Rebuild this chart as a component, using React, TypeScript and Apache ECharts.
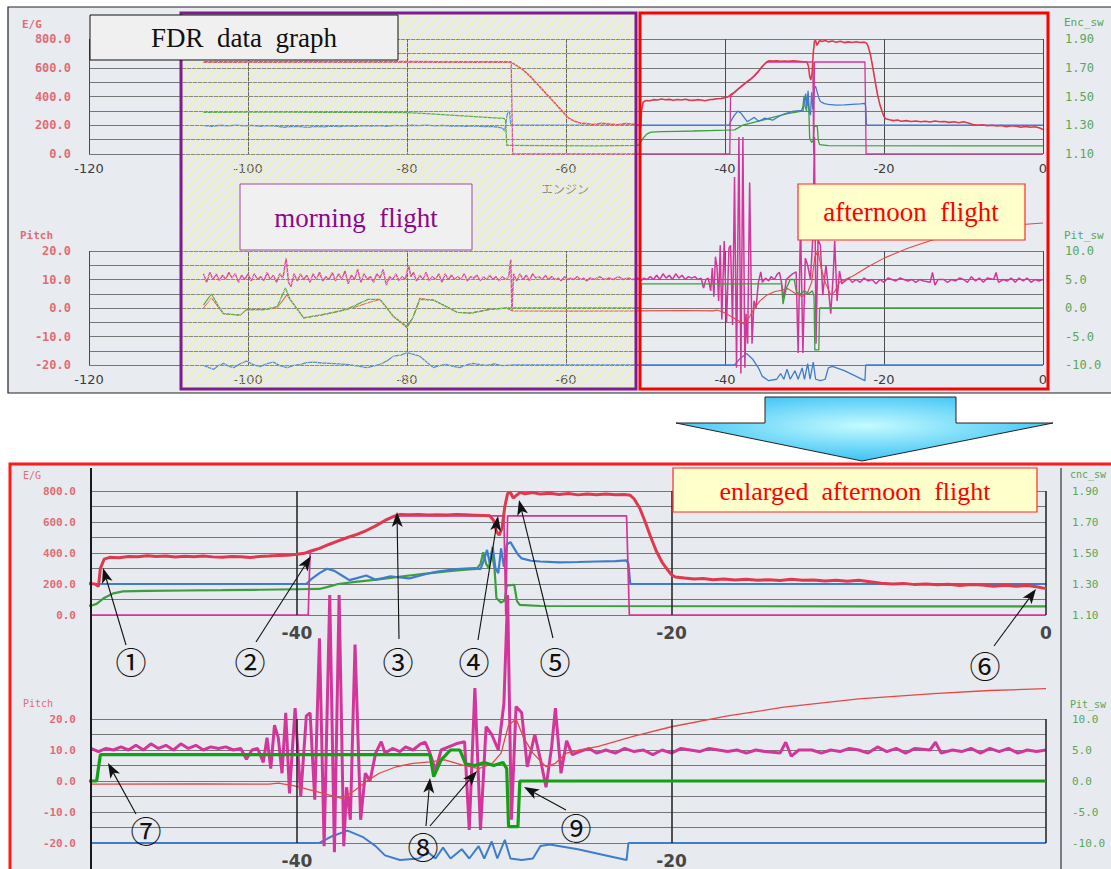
import React, { useEffect, useRef } from 'react';
import * as echarts from 'echarts';

type P = [number, number];

// ---------- E/G (engine) series, x = time, y = E/G value ----------
const egRed: P[] = [
  [-105.6, 640], [-103, 642], [-100, 640], [-96, 641], [-92, 643], [-88, 640], [-84, 642], [-80, 644], [-76, 641], [-72, 640], [-68, 641], [-67, 640],
  [-66.5, 625], [-65.5, 590], [-64.5, 540], [-63.5, 480], [-62.5, 420], [-61.5, 360], [-60.5, 300], [-59.8, 255], [-59, 230], [-58.2, 215], [-57.5, 212],
  [-56.5, 205], [-55.5, 214], [-54.5, 208], [-53.5, 203], [-52.5, 212], [-51.5, 207], [-50.8, 200], [-50.6, 185],
  [-50.5, 300], [-50.3, 360], [-50, 372], [-49.5, 370], [-49, 378], [-48.5, 376], [-48, 382], [-47.5, 377], [-47, 380], [-46.5, 374], [-46, 379],
  [-45.5, 376], [-45, 381], [-44.5, 375], [-44, 373], [-43.5, 378], [-43, 376], [-42.5, 371], [-42, 377], [-41.5, 380], [-41, 384], [-40.5, 386],
  [-40, 392], [-39.6, 398], [-39.3, 412], [-38.8, 430], [-38.3, 455], [-37.8, 478], [-37.3, 500], [-36.8, 520], [-36.3, 545], [-35.8, 575], [-35.3, 610],
  [-34.8, 638], [-34.5, 648], [-34, 646], [-33.5, 648], [-33, 645], [-32.5, 647], [-32, 645], [-31.5, 648], [-31, 646], [-30.5, 644], [-30, 642],
  [-29.7, 640], [-29.5, 610], [-29.35, 540], [-29.2, 515], [-29.05, 560], [-28.9, 700], [-28.75, 785], [-28.6, 790], [-28.45, 755], [-28.3, 770],
  [-28.1, 790], [-27.8, 782], [-27.4, 790], [-27, 780], [-26.5, 786], [-26, 778], [-25.5, 784], [-25, 775], [-24.5, 780], [-24, 776], [-23.5, 781],
  [-23, 776], [-22.5, 778], [-22.2, 772], [-22, 750], [-21.7, 690], [-21.4, 600], [-21.1, 500], [-20.8, 410], [-20.5, 340], [-20.2, 290], [-20, 260],
  [-19.8, 245], [-19.3, 238], [-18.8, 232], [-18.3, 236], [-17.8, 228], [-17.2, 232], [-16.6, 226], [-16, 230], [-15.4, 224], [-14.8, 228], [-14.2, 222],
  [-13.6, 230], [-13, 224], [-12.4, 226], [-11.8, 220], [-11.2, 224], [-10.6, 218], [-10, 224], [-9.4, 215], [-8.8, 205], [-8.2, 200], [-7.6, 204],
  [-7, 196], [-6.4, 200], [-5.8, 195], [-5.2, 198], [-4.6, 190], [-4, 196], [-3.4, 194], [-2.8, 186], [-2.2, 192], [-1.6, 186], [-1, 190], [-0.5, 182], [0, 170],
];

const egMagenta: P[] = [
  [-105.6, 640], [-66.9, 640], [-66.7, 0], [-39.4, 0], [-39.3, 405], [-38.8, 428], [-38.3, 453], [-37.8, 476], [-37.3, 498], [-36.8, 518],
  [-36.3, 543], [-35.8, 573], [-35.3, 608], [-34.8, 636], [-34.5, 640], [-28.95, 640], [-28.85, 0], [-28.75, 640], [-22.4, 640], [-22.25, 0], [0, 0],
];

const egGreen: P[] = [
  [-105.6, 290], [-100, 292], [-95, 291], [-90, 290], [-85, 289], [-80, 288], [-78, 282], [-75, 272], [-72, 262], [-69, 252], [-67.8, 248],
  [-67.6, 236], [-67.45, 60], [-62, 58], [-56, 57], [-51, 60], [-50.7, 72], [-50.3, 110], [-49.8, 140], [-49.3, 152], [-48, 156], [-46, 158],
  [-44, 160], [-42, 163], [-40, 166], [-38.8, 168], [-38.4, 180], [-37.8, 200], [-37, 212], [-36, 225], [-35, 240], [-34, 255], [-33, 268],
  [-32, 282], [-31, 292], [-30.4, 298], [-30.2, 330], [-30.05, 405], [-29.9, 330], [-29.75, 300], [-29.6, 410], [-29.45, 300], [-29.35, 110],
  [-29.1, 80], [-28.9, 95], [-28.8, 190], [-28.4, 195], [-28.25, 90], [-28.1, 65], [-27, 58], [-10, 56], [0, 56],
];

const egBlue: P[] = [
  [-105.6, 198], [-104.5, 192], [-103.5, 200], [-102.5, 195], [-101.5, 201], [-100.5, 196], [-99.5, 199], [-98.5, 193], [-97.5, 198], [-96.5, 194],
  [-95.5, 186], [-94.5, 192], [-93.5, 190], [-92.5, 185], [-91.5, 192], [-90.5, 188], [-89.5, 194], [-88.5, 190], [-87.5, 196], [-86.5, 192],
  [-85.5, 198], [-84.5, 194], [-83.5, 197], [-82.5, 193], [-81.5, 199], [-80.5, 196], [-79.5, 200], [-78.5, 197], [-77.5, 201], [-76.5, 196],
  [-75.5, 199], [-74.5, 194], [-73.5, 196], [-72.5, 192], [-71.5, 195], [-70.5, 190], [-69.5, 192], [-68.5, 186], [-68, 180], [-67.7, 160],
  [-67.5, 240], [-67.3, 300], [-67.1, 290], [-66.95, 205], [-66.8, 200], [-39.5, 200], [-39.2, 235], [-38.8, 270], [-38.4, 298], [-38, 285],
  [-37.6, 255], [-37.2, 225], [-36.8, 238], [-36.3, 255], [-35.8, 228], [-35.4, 238], [-35, 250], [-34.5, 242], [-34, 236], [-33.5, 252],
  [-33, 268], [-32.5, 280], [-32, 288], [-31.5, 296], [-31, 300], [-30.5, 302], [-30.2, 296], [-30, 360], [-29.85, 420], [-29.7, 330],
  [-29.55, 440], [-29.4, 300], [-29.25, 270], [-29.1, 430], [-28.95, 310], [-28.8, 455], [-28.6, 470], [-28.4, 430], [-28.2, 390], [-28, 365],
  [-27.5, 350], [-27, 345], [-26, 340], [-25, 342], [-24, 345], [-23, 348], [-22.4, 352], [-22.3, 330], [-22.2, 200], [0, 200],
];

// ---------- Pitch series ----------
const pitchMagenta: P[] = [
  [-105.6, 12], [-105.2, 9], [-104.8, 12.5], [-104.4, 10], [-104, 12], [-103.6, 9.5], [-103.2, 11.5], [-102.8, 10], [-102.4, 12.5], [-102, 10.5],
  [-101.6, 12], [-101.2, 9], [-100.8, 11.5], [-100.4, 10], [-100, 12], [-99.6, 9.5], [-99.2, 12], [-98.8, 10], [-98.4, 11], [-98, 9.5],
  [-97.6, 12.5], [-97.2, 10], [-96.8, 11.5], [-96.4, 9], [-96, 12], [-95.6, 10.5], [-95.2, 17.5], [-94.9, 9], [-94.6, 7.5], [-94.2, 12],
  [-93.8, 9.5], [-93.4, 12], [-93, 10], [-92.6, 11.5], [-92.2, 9], [-91.8, 12], [-91.4, 10], [-91, 12.5], [-90.6, 9.5], [-90.2, 11],
  [-89.8, 10], [-89.4, 12.5], [-89, 9.5], [-88.6, 12], [-88.2, 10], [-87.8, 13], [-87.4, 8.5], [-87, 11.5], [-86.6, 10], [-86.2, 13.5],
  [-85.8, 9], [-85.4, 12], [-85, 10], [-84.6, 11], [-84.2, 9], [-83.8, 12], [-83.4, 10.5], [-83, 13.5], [-82.6, 8], [-82.2, 11],
  [-81.8, 10], [-81.4, 12], [-81, 9.5], [-80.6, 11], [-80.2, 10], [-79.8, 15], [-79.5, 11], [-79.2, 12.5], [-78.8, 9.5], [-78.4, 11.5],
  [-78, 10], [-77.6, 12.5], [-77.2, 9.5], [-76.8, 11], [-76.4, 10], [-76, 12], [-75.6, 9], [-75.2, 12], [-74.8, 10], [-74.4, 11.5],
  [-74, 10], [-73.6, 11], [-73.2, 10], [-72.8, 12], [-72.4, 9.5], [-72, 11], [-71.6, 10.5], [-71.2, 11.5], [-70.8, 9.5], [-70.4, 11],
  [-70, 10], [-69.6, 11.5], [-69.2, 10], [-68.8, 11], [-68.4, 9.5], [-68, 11], [-67.6, 10], [-67.2, 11], [-66.95, 17], [-66.8, -1],
  [-66.6, 12], [-66.2, 9.5], [-65.8, 12], [-65.4, 10], [-65, 11.5], [-64.6, 9.5], [-64.2, 12], [-63.8, 10.5], [-63.4, 11], [-63, 10],
  [-62.6, 11.5], [-62.2, 10], [-61.8, 11], [-61.4, 10], [-61, 10.5], [-60.6, 9.5], [-60.2, 11], [-59.8, 10], [-59.4, 10.5], [-59, 10],
  [-58.6, 11], [-58.2, 10], [-57.8, 10.5], [-57.4, 9.5], [-57, 10.5], [-56.4, 10], [-55.8, 11], [-55.2, 10], [-54.6, 10.5], [-54, 10],
  [-53.4, 11], [-52.8, 10], [-52.2, 10.5], [-51.6, 10], [-51, 10.5],
  [-50.6, 9.5], [-50.2, 10.5], [-49.8, 10], [-49.4, 11], [-49, 10], [-48.6, 11.5], [-48.2, 10], [-47.8, 12], [-47.4, 10.5], [-47, 11.5],
  [-46.6, 10], [-46.2, 12], [-45.8, 10.5], [-45.4, 11.5], [-45, 10], [-44.6, 11], [-44.2, 10.5], [-43.8, 11], [-43.4, 10], [-43, 10.5],
  [-42.7, 7], [-42.4, 10], [-42.1, 10.5], [-41.8, 6], [-41.6, 14], [-41.4, 4], [-41.2, 18], [-41, 14], [-40.8, 2.5], [-40.6, 22],
  [-40.4, -4], [-40.1, 23.5], [-39.8, -5], [-39.5, 21], [-39.3, 22], [-39.05, -6], [-38.8, 46], [-38.55, -21], [-38.25, 60], [-38, -23],
  [-37.75, 60], [-37.5, -21], [-37.35, -2], [-37.15, -12.5], [-36.9, 44], [-36.6, -12.5], [-36.35, 2.5], [-36.1, 0], [-35.8, 9], [-35.5, 12.7],
  [-35.3, 9], [-34.9, 10.5], [-34.5, 9.5], [-34.2, 11], [-33.8, 10], [-33.4, 12], [-33.15, 12.5], [-32.9, 9], [-32.6, 3.5], [-32.3, 10],
  [-31.9, 11], [-31.5, 12], [-31.05, 12.7], [-30.8, -15.8], [-30.5, 30], [-30.2, -15.8], [-29.9, 17.5], [-29.6, 15], [-29.25, 10], [-28.95, 25],
  [-28.75, 60], [-28.55, -12.5], [-28.3, 24], [-28, 22], [-27.7, 4.6], [-27.3, 15], [-27, 7], [-26.7, -2], [-26.4, 11], [-26.2, 23.5],
  [-25.9, 2.5], [-25.6, 13], [-25.3, 8.5], [-24.9, 9.5], [-24.4, 10.5], [-24, 9], [-23.5, 10], [-23, 9], [-22.5, 10.5], [-22, 9.5],
  [-21.5, 10], [-21, 8.5], [-20.5, 10], [-20, 9], [-19.5, 10.5], [-19, 10], [-18.5, 9.5], [-18, 10.5], [-17.5, 10], [-17, 9.5],
  [-16.5, 10], [-16, 9], [-15.5, 10], [-15, 9.5], [-14.2, 9], [-13.9, 12.5], [-13.6, 8], [-13.2, 10], [-12.5, 10], [-12, 9],
  [-11.5, 10], [-11, 9.5], [-10.5, 10.5], [-10, 10], [-9.5, 9], [-9, 11], [-8.5, 9.5], [-8, 10.5], [-7.5, 9], [-7, 10.5],
  [-6.2, 10], [-5.9, 12.5], [-5.6, 9], [-5, 10], [-4.5, 9.5], [-4, 10.5], [-3.5, 9], [-3, 10.5], [-2.5, 9.5], [-2, 10.5],
  [-1.5, 9], [-1, 10], [-0.5, 9.5], [0, 10],
];

const pitchRed: P[] = [
  [-105.6, 0], [-104.6, 3.5], [-103.1, -2], [-102, -2.3], [-101, -2.5], [-100.2, -0.5], [-98, -0.6], [-96.3, 0], [-95.1, 4.7], [-94.7, 3],
  [-93, -3.5], [-92, -3], [-90.9, -2.5], [-89, -1.5], [-87.6, -0.5], [-86, 0.8], [-84.7, 2], [-83.4, 3], [-82.5, 0], [-81.7, -3],
  [-80.8, -5], [-80, -7], [-79.2, -3], [-78.4, 3.4], [-77.5, 3], [-76.7, 2.8], [-75.4, 1], [-73.7, -1.5], [-72, -1.8], [-70.5, -1],
  [-69.6, -0.5], [-67.5, 0], [-66.8, -1], [-60, -1.1], [-51, -1], [-45, -0.9], [-41.5, -1], [-41, -0.7], [-40.2, -1.5], [-39.2, -3],
  [-38.3, -4.5], [-37.6, -5.6], [-36.9, -3], [-36.2, 0.3], [-35.6, 2.5], [-34.7, 4.6], [-33.8, 5.7], [-32.9, 6.2], [-32.1, 6.8], [-31.2, 5.2],
  [-30.3, 4], [-29.6, 5.5], [-29.1, 9], [-28.7, 18], [-28.3, 20], [-27.9, 14], [-27.4, 9], [-26.7, 4.6], [-26.2, 5.7], [-25.6, 9],
  [-24.9, 10], [-23.9, 11.2], [-22, 14.5], [-20, 17.5], [-17, 21], [-14, 23.8], [-10, 26.5], [-6, 28.2], [-3, 29.2], [0, 29.8],
];

const pitchGreen: P[] = [
  [-105.6, 1], [-104.6, 5], [-103.8, 1], [-103.1, -2], [-101, -2.5], [-100.2, -0.5], [-98, -0.6], [-96.3, 0.5], [-95.3, 7], [-94.7, 3],
  [-93, -3.5], [-90.9, -2.5], [-87.6, -0.5], [-84.9, 3], [-83.4, 3], [-81.7, -3], [-80, -6.5], [-79.2, -3], [-78.4, 3], [-76.7, 2.8],
  [-75.4, 1], [-73.7, -1.5], [-72, -1.8], [-69.6, -0.5], [-67.5, 0], [-66.8, 0], [-50.7, 0], [-50.5, 8.5], [-32.9, 8.5], [-32.7, 1.4],
  [-32.3, 6.8], [-31.8, 10], [-31.3, 10], [-31, 5.5], [-30.5, 5], [-30, 6], [-29.5, 5], [-29, 6], [-28.8, 4], [-28.7, -14.7],
  [-28.2, -14.7], [-28.1, 0], [0, 0],
];

const pitchBlue: P[] = [
  [-105.6, -20.1], [-105, -20.8], [-104.3, -21.5], [-103.7, -20.2], [-103.1, -19.4], [-102.4, -20.5], [-101.8, -20.9], [-101, -19.6],
  [-100.2, -18.6], [-99.4, -19.8], [-98.5, -20.6], [-97.6, -19.5], [-96.8, -19], [-96, -20.2], [-95.1, -20.9], [-94.2, -20.1],
  [-93.4, -19.8], [-92.6, -19.2], [-91.8, -19], [-90.7, -19.3], [-89.7, -19.4], [-88.6, -19.6], [-87.6, -19.8], [-86.3, -20.3],
  [-85.1, -20.9], [-84.2, -20.4], [-83.4, -19.8], [-82.5, -18.5], [-81.7, -16.9], [-80.8, -16.5], [-80, -15.7], [-79.2, -16.3],
  [-78.4, -16.9], [-77.5, -19], [-76.7, -20.9], [-75.9, -20.2], [-75.1, -19.8], [-74.2, -20.5], [-73.4, -20.9], [-72.5, -20],
  [-71.7, -19.4], [-70.8, -19.9], [-70, -20.1], [-69, -19.6], [-68, -20.2], [-66.6, -20], [-51, -20], [-38.8, -20], [-38.2, -18], [-37.3, -16],
  [-36.5, -18], [-35.8, -21], [-35.3, -24], [-34.5, -25.5], [-33.5, -25], [-33, -23], [-32.6, -25], [-32.2, -21.5], [-31.8, -25],
  [-31.2, -22], [-30.8, -25], [-30.3, -21], [-30, -25], [-29.6, -19.5], [-29.3, -25], [-28.9, -19], [-28.6, -25], [-28, -25.5],
  [-27.4, -25], [-27, -21], [-26.5, -20.5], [-25, -22], [-23.5, -24], [-22.4, -25.5], [-22.3, -20], [0, -20],
];

// ---------- tick labels / ranges ----------
const encTickLabels = ['1.10', '1.30', '1.50', '1.70', '1.90'];
const bottomVLines = [-40, -20, 0];
const zoomStart = -51;

const C = {
  red: '#e0394f',
  magenta: '#d4359b',
  green: '#3d9e3d',
  greenDark: '#14a014',
  blue: '#3f7dcc',
  pitchRed: '#e44848',
};

function line(data: P[], xi: number, yi: number, color: string, width: number, z: number, clip: boolean, extra: any = {}) {
  return {
    type: 'line', data, xAxisIndex: xi, yAxisIndex: yi, symbol: 'none', showSymbol: false, silent: true,
    lineStyle: { color, width }, itemStyle: { color }, clip, z, ...extra,
  };
}

function arrow(x1: number, y1: number, x2: number, y2: number) {
  const a = Math.atan2(y2 - y1, x2 - x1);
  const L = 15, w = 5.5;
  const bx = x2 - L * Math.cos(a), by = y2 - L * Math.sin(a);
  const nx = x2 - L * 0.75 * Math.cos(a), ny = y2 - L * 0.75 * Math.sin(a);
  return [
    { type: 'line', z: 70, shape: { x1, y1, x2: nx, y2: ny }, style: { stroke: '#111', lineWidth: 1.1 } },
    {
      type: 'polygon', z: 71,
      shape: { points: [[x2, y2], [bx - Math.sin(a) * w, by + Math.cos(a) * w], [nx, ny], [bx + Math.sin(a) * w, by - Math.cos(a) * w]] },
      style: { fill: '#111' },
    },
  ];
}

function txt(text: string, x: number, y: number, font: string, fill: string, align = 'center', z = 72) {
  return {
    type: 'text', z,
    style: { text, x, y, font, fill, align, verticalAlign: 'middle', textAlign: align, textVerticalAlign: 'middle' },
  };
}

function box(x: number, y: number, w: number, h: number, fill: any, stroke: string, lw: number, z: number) {
  return { type: 'rect', z, shape: { x, y, width: w, height: h }, style: { fill, stroke, lineWidth: lw } };
}

function makeHatch() {
  const c = document.createElement('canvas');
  c.width = 5; c.height = 5;
  const ctx = c.getContext('2d')!;
  ctx.fillStyle = 'rgba(230,232,225,0.18)';
  ctx.fillRect(0, 0, 5, 5);
  ctx.strokeStyle = 'rgba(248,244,120,0.7)';
  ctx.lineWidth = 0.9;
  ctx.beginPath();
  ctx.moveTo(0, 5); ctx.lineTo(5, 0);
  ctx.moveTo(-1, 1); ctx.lineTo(1, -1);
  ctx.moveTo(4, 6); ctx.lineTo(6, 4);
  ctx.stroke();
  return c;
}

const leftLabelStyle = (margin: number, size: number) => ({
  color: '#e26c76', fontFamily: 'DejaVu Sans Mono', fontWeight: 'bold', fontSize: size, margin,
});
const rightLabelStyle = (margin: number, size: number) => ({
  color: '#5aa65a', fontFamily: 'DejaVu Sans Mono', fontSize: size, margin,
});
const hLine = { show: true, lineStyle: { color: '#767676', width: 1 } };

export default function App() {
  const ref = useRef<HTMLDivElement>(null);
  useEffect(() => {
    if (!ref.current) return;
    const chart = echarts.init(ref.current, null, { renderer: 'svg' });
    const inZoom = (d: P[]) => d.filter((p) => p[0] >= zoomStart - 0.05);
    const vMark = {
      silent: true, symbol: 'none', label: { show: false },
      lineStyle: { color: '#2b2b2b', width: 1.6, type: 'solid' },
      data: bottomVLines.map((v) => ({ xAxis: v })),
    };

    const topX = (gi: number) => ({
      gridIndex: gi, type: 'value', min: -120, max: 0, interval: 20,
      axisLine: { show: false }, axisTick: { show: false },
      axisLabel: { color: '#3c3c3c', fontSize: 13, fontFamily: 'DejaVu Sans', margin: 8 },
      splitLine: { show: true, lineStyle: { color: '#4a4a4a', width: 1 } },
    });
    const botX = (gi: number, showZero: boolean) => ({
      gridIndex: gi, type: 'value', min: zoomStart, max: 0,
      axisLine: { show: false }, axisTick: { show: false }, splitLine: { show: false },
      axisLabel: {
        color: '#474747', fontSize: 17, fontWeight: 'bold', fontFamily: 'DejaVu Sans', margin: 9,
        formatter: (v: number) => (v % 20 === 0 && (showZero || v !== 0) ? String(v) : ''),
      },
    });
    const egLeft = (gi: number, margin: number, size: number) => ({
      gridIndex: gi, type: 'value', min: 0, max: 800, interval: 200, position: 'left',
      axisLine: { show: false }, axisTick: { show: false },
      axisLabel: { ...leftLabelStyle(margin, size), formatter: (v: number) => v.toFixed(1) },
      splitLine: hLine, minorTick: { show: false, splitNumber: 2 }, minorSplitLine: hLine,
    });
    const egRight = (gi: number, margin: number, size: number) => ({
      gridIndex: gi, type: 'value', min: 0, max: 800, interval: 200, position: 'right',
      axisLine: { show: false }, axisTick: { show: false }, splitLine: { show: false },
      axisLabel: { ...rightLabelStyle(margin, size), formatter: (v: number) => encTickLabels[Math.round(v / 200)] },
    });
    const pitchLeft = (gi: number, margin: number, size: number) => ({
      gridIndex: gi, type: 'value', min: -20, max: 20, interval: 10, position: 'left',
      axisLine: { show: false }, axisTick: { show: false },
      axisLabel: { ...leftLabelStyle(margin, size), formatter: (v: number) => v.toFixed(1) },
      splitLine: hLine, minorTick: { show: false, splitNumber: 2 }, minorSplitLine: hLine,
    });
    const pitchRight = (gi: number, margin: number, size: number) => ({
      gridIndex: gi, type: 'value', min: -10, max: 10, interval: 5, position: 'right',
      axisLine: { show: false }, axisTick: { show: false }, splitLine: { show: false },
      axisLabel: { ...rightLabelStyle(margin, size), formatter: (v: number) => v.toFixed(1) },
    });

    const hatch = makeHatch();

    const graphics: any[] = [
      box(8, 7, 1110, 386, '#e8ebf0', '#222', 1.2, -10),
      box(10, 464, 1110, 420, '#e7eaef', '#ff1a1a', 3, -10),
      { type: 'line', z: 20, shape: { x1: 91, y1: 468, x2: 91, y2: 869 }, style: { stroke: '#1a1a1a', lineWidth: 2 } },
      { type: 'line', z: 20, shape: { x1: 1061, y1: 468, x2: 1061, y2: 869 }, style: { stroke: '#333', lineWidth: 1.2 } },
      txt('E/G', 22, 24, 'bold 11px "DejaVu Sans Mono"', '#e26c76', 'left'),
      txt('Pitch', 20, 235, 'bold 11px "DejaVu Sans Mono"', '#e26c76', 'left'),
      txt('Enc_sw', 1064, 22, '11px "DejaVu Sans Mono"', '#5aa65a', 'left'),
      txt('Pit_sw', 1064, 235, '11px "DejaVu Sans Mono"', '#5aa65a', 'left'),
      txt('エンジン', 565, 188, '12px "Noto Sans CJK JP"', '#777', 'center', 5),
      txt('E/G', 23, 475, '10px "DejaVu Sans Mono"', '#e26c76', 'left'),
      txt('Pitch', 23, 703, '10px "DejaVu Sans Mono"', '#e26c76', 'left'),
      txt('cnc_sw', 1070, 474, '10px "DejaVu Sans Mono"', '#5aa65a', 'left'),
      txt('Pit_sw', 1070, 704, '10px "DejaVu Sans Mono"', '#5aa65a', 'left'),
      box(181, 13, 455, 376, { image: hatch, repeat: 'repeat', imageWidth: 5, imageHeight: 5 }, '#7d1c8c', 3, 50),
      box(640, 13, 408, 376, 'rgba(0,0,0,0)', '#ff0000', 3, 50),
      box(90, 15, 308, 45, '#f0f0f0', '#111', 1, 60),
      txt('FDR  data  graph', 244, 38, '27px "Liberation Serif"', '#111'),
      box(240, 184, 232, 66, '#f0f0f0', '#9a4aa8', 1, 60),
      txt('morning  flight', 356, 218, '27px "Liberation Serif"', '#8a0a8a'),
      box(798, 184, 227, 56, '#ffffcc', '#ff2a2a', 1.2, 60),
      txt('afternoon  flight', 911, 212, '27px "Liberation Serif"', '#ff0000'),
      box(673, 468, 364, 44, '#ffffcc', '#ff2a2a', 1.2, 60),
      txt('enlarged  afternoon  flight', 855, 491, '26px "Liberation Serif"', '#ff0000'),
      {
        type: 'polygon', z: 60,
        shape: { points: [[765, 397], [956, 397], [956, 423], [1053, 423], [862, 461], [676, 423], [765, 423]] },
        style: {
          stroke: '#222', lineWidth: 1,
          fill: {
            type: 'radial', x: 0.5, y: 0.45, r: 0.55,
            colorStops: [{ offset: 0, color: '#c4fbff' }, { offset: 1, color: '#3cc2f4' }],
          },
        },
      },
    ];

    const annotations: [string, number, number][] = [
      ['①', 131, 660], ['②', 250, 660], ['③', 398, 660], ['④', 474, 660], ['⑤', 555, 660],
      ['⑥', 985, 664], ['⑦', 146, 829], ['⑧', 423, 845], ['⑨', 576, 826],
    ];
    annotations.forEach(([t, x, y]) => graphics.push(txt(t, x, y, '31px "Noto Sans CJK JP"', '#111')));
    const arrows: [number, number, number, number][] = [
      [126, 645, 103, 568], [256, 642, 311, 556], [399, 639, 397, 512], [478, 640, 498, 516], [553, 638, 519, 500],
      [994, 646, 1036, 589], [136, 814, 108, 763], [426, 826, 430, 778], [430, 826, 477, 771], [566, 810, 524, 787],
    ];
    arrows.forEach(([a, b, c, d]) => graphics.push(...arrow(a, b, c, d)));

    chart.setOption({
      animation: false,
      backgroundColor: '#ffffff',
      grid: [
        { left: 89, top: 39, width: 954, height: 115 },
        { left: 89, top: 251, width: 954, height: 114 },
        { left: 91, top: 491, width: 955, height: 124 },
        { left: 91, top: 719, width: 955, height: 124 },
      ],
      xAxis: [topX(0), topX(1), botX(2, true), botX(3, false)],
      yAxis: [
        egLeft(0, 18, 12), egRight(0, 22, 12),
        pitchLeft(1, 18, 12), pitchRight(1, 22, 12),
        egLeft(2, 15, 11), egRight(2, 26, 11),
        pitchLeft(3, 15, 11), pitchRight(3, 26, 11),
      ],
      series: [
        line(egGreen, 0, 0, C.green, 1.3, 2, true),
        line(egBlue, 0, 0, C.blue, 1.3, 3, true),
        line(egMagenta, 0, 0, C.magenta, 1.3, 4, true),
        line(egRed, 0, 0, C.red, 1.6, 5, true),
        line(pitchBlue, 1, 2, C.blue, 1.3, 2, false),
        line(pitchMagenta, 1, 2, C.magenta, 1.5, 3, false),
        line(pitchRed, 1, 2, C.pitchRed, 1.1, 4, false),
        line(pitchGreen, 1, 2, C.green, 1.3, 5, true),
        line(egGreen, 2, 4, C.green, 2.2, 2, true, { markLine: vMark }),
        line(egBlue, 2, 4, C.blue, 2.2, 3, true),
        line(egMagenta, 2, 4, C.magenta, 1.7, 4, true),
        line(egRed, 2, 4, C.red, 3, 5, true),
        line(inZoom(pitchBlue), 3, 6, C.blue, 2, 2, false, { markLine: vMark }),
        line(inZoom(pitchMagenta), 3, 6, C.magenta, 3, 3, false),
        line(inZoom(pitchRed), 3, 6, C.pitchRed, 1.3, 4, false),
        line(pitchGreen, 3, 6, C.greenDark, 3.2, 5, true),
      ],
      graphic: { elements: graphics },
    });
    return () => chart.dispose();
  }, []);
  return <div ref={ref} style={{ position: 'absolute', left: 0, top: 0, width: 1111, height: 869 }} />;
}
